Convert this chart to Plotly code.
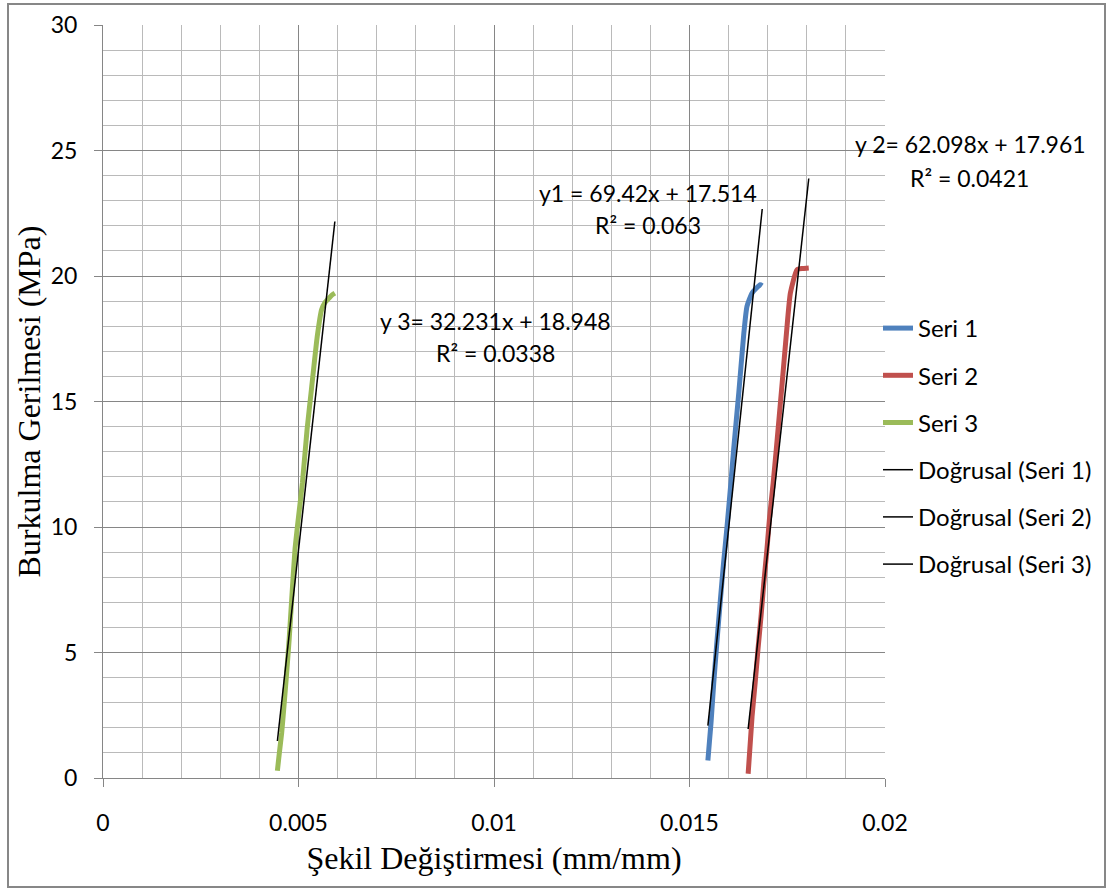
import numpy as np
import plotly.graph_objects as go

# Strain (mm/mm) and buckling stress (MPa) readings for the three specimens
strain_1 = [0.01547, 0.01551, 0.01555, 0.01562, 0.01570, 0.01579, 0.01587, 0.01596, 0.01605,
            0.01613, 0.01626, 0.01639, 0.01647, 0.01660, 0.01681, 0.01686]
stress_1 = [0.70, 1.45, 2.20, 3.78, 5.40, 7.10, 8.55, 10.02, 11.60,
            13.10, 15.34, 17.73, 18.79, 19.32, 19.65, 19.61]

strain_2 = [0.01650, 0.01660, 0.01668, 0.01675, 0.01683, 0.01690, 0.01698, 0.01705, 0.01714,
            0.01722, 0.01737, 0.01748, 0.01758, 0.01775, 0.01790, 0.01805]
stress_2 = [0.17, 2.45, 3.80, 5.11, 6.45, 7.77, 9.10, 10.42, 11.75,
            13.10, 15.74, 17.73, 19.32, 20.25, 20.30, 20.32]

strain_3 = [0.00446, 0.00451, 0.00457, 0.00463, 0.00469, 0.00476, 0.00482, 0.00491, 0.00500,
            0.00510, 0.00522, 0.00533, 0.00548, 0.00559, 0.00568, 0.00578, 0.00586, 0.00593]
stress_3 = [0.29, 1.00, 1.80, 2.90, 4.05, 5.50, 6.97, 9.10, 10.40,
            11.75, 13.90, 15.47, 17.60, 18.66, 18.95, 19.12, 19.25, 19.32]

series_names = ["Seri 1", "Seri 2", "Seri 3"]
trend_names = ["Doğrusal (Seri 1)", "Doğrusal (Seri 2)", "Doğrusal (Seri 3)"]
series_colors = ["#4F81BD", "#C0504D", "#9BBB59"]

equation_lines = [
    ("y1 = 69.42x + 17.514", "R² = 0.063"),
    ("y 2= 62.098x + 17.961", "R² = 0.0421"),
    ("y 3= 32.231x + 18.948", "R² = 0.0338"),
]

x_ticks = [0, 0.005, 0.01, 0.015, 0.02]
x_tick_text = ["0", "0.005", "0.01", "0.015", "0.02"]
y_ticks = [0, 5, 10, 15, 20, 25, 30]

W, H = 1113, 891
ML, MR, MT, MB = 103, 228, 25, 113
PW, PH = W - ML - MR, H - MT - MB


def px_x(px):
    return (px - ML) / PW


def px_y(py):
    return 1 - (py - MT) / PH


SANS = "Lato, 'Open Sans', sans-serif"
SERIF = "'Liberation Serif', 'Times New Roman', serif"

fig = go.Figure()

data = [(strain_1, stress_1), (strain_2, stress_2), (strain_3, stress_3)]

for (sx, sy), name, color in zip(data, series_names, series_colors):
    fig.add_trace(go.Scatter(
        x=sx, y=sy, mode="lines", name=name, legendgroup=name,
        line=dict(color=color, width=5, shape="spline", smoothing=0.5),
    ))

# Linear trend lines fitted over each specimen's strain range
for (sx, sy), name in zip(data, trend_names):
    slope, intercept = np.polyfit(sx, sy, 1)
    xs = np.array([min(sx), max(sx)])
    fig.add_trace(go.Scatter(
        x=xs, y=slope * xs + intercept, mode="lines", name=name, legendgroup=name,
        line=dict(color="black", width=1.5),
    ))

# Trend line equation labels (equation line, then R² line)
eq_positions = [((648, 193), (648, 225)), ((970, 144), (969, 178)), ((495, 321), (495, 353))]
for lines, centers in zip(equation_lines, eq_positions):
    for text, (cx, cy) in zip(lines, centers):
        fig.add_annotation(
            x=px_x(cx), y=px_y(cy), xref="paper", yref="paper",
            text=text, showarrow=False, align="center",
            xanchor="center", yanchor="middle",
            font=dict(family=SANS, size=23, color="black"),
        )

# Outer chart frame
fig.add_shape(
    type="rect", xref="paper", yref="paper",
    x0=px_x(8), x1=px_x(1105), y0=px_y(887), y1=px_y(4),
    line=dict(color="#878787", width=2), layer="below",
)

axis_common = dict(
    showline=True, linecolor="#868686", linewidth=1,
    showgrid=True, gridcolor="#868686", gridwidth=1,
    ticks="outside", ticklen=8, tickcolor="#868686",
    zeroline=False, mirror=False,
    tickfont=dict(family=SANS, size=23, color="black"),
)

fig.update_xaxes(
    range=[0, 0.02], tickvals=x_ticks, ticktext=x_tick_text,
    minor=dict(dtick=0.001, showgrid=True, gridcolor="#bababa", gridwidth=1.2, ticks=""),
    title=dict(text="Şekil Değiştirmesi (mm/mm)",
               font=dict(family=SERIF, size=32, color="black"), standoff=12),
    ticklabelstandoff=16,
    **axis_common,
)
fig.update_yaxes(
    range=[0, 30], tickvals=y_ticks,
    minor=dict(dtick=1, showgrid=True, gridcolor="#bababa", gridwidth=1.2, ticks=""),
    title=dict(text="Burkulma Gerilmesi (MPa)",
               font=dict(family=SERIF, size=32, color="black"), standoff=0),
    ticklabelstandoff=12,
    **axis_common,
)

fig.update_layout(
    width=W, height=H,
    margin=dict(l=ML, r=MR, t=MT, b=MB, autoexpand=False),
    paper_bgcolor="white", plot_bgcolor="white",
    showlegend=True,
    legend=dict(
        x=px_x(878), y=px_y(306), xanchor="left", yanchor="top",
        tracegroupgap=13, bgcolor="rgba(0,0,0,0)", borderwidth=0,
        font=dict(family=SANS, size=24, color="black"),
        traceorder="grouped",
    ),
)

fig.write_html("out.html")
